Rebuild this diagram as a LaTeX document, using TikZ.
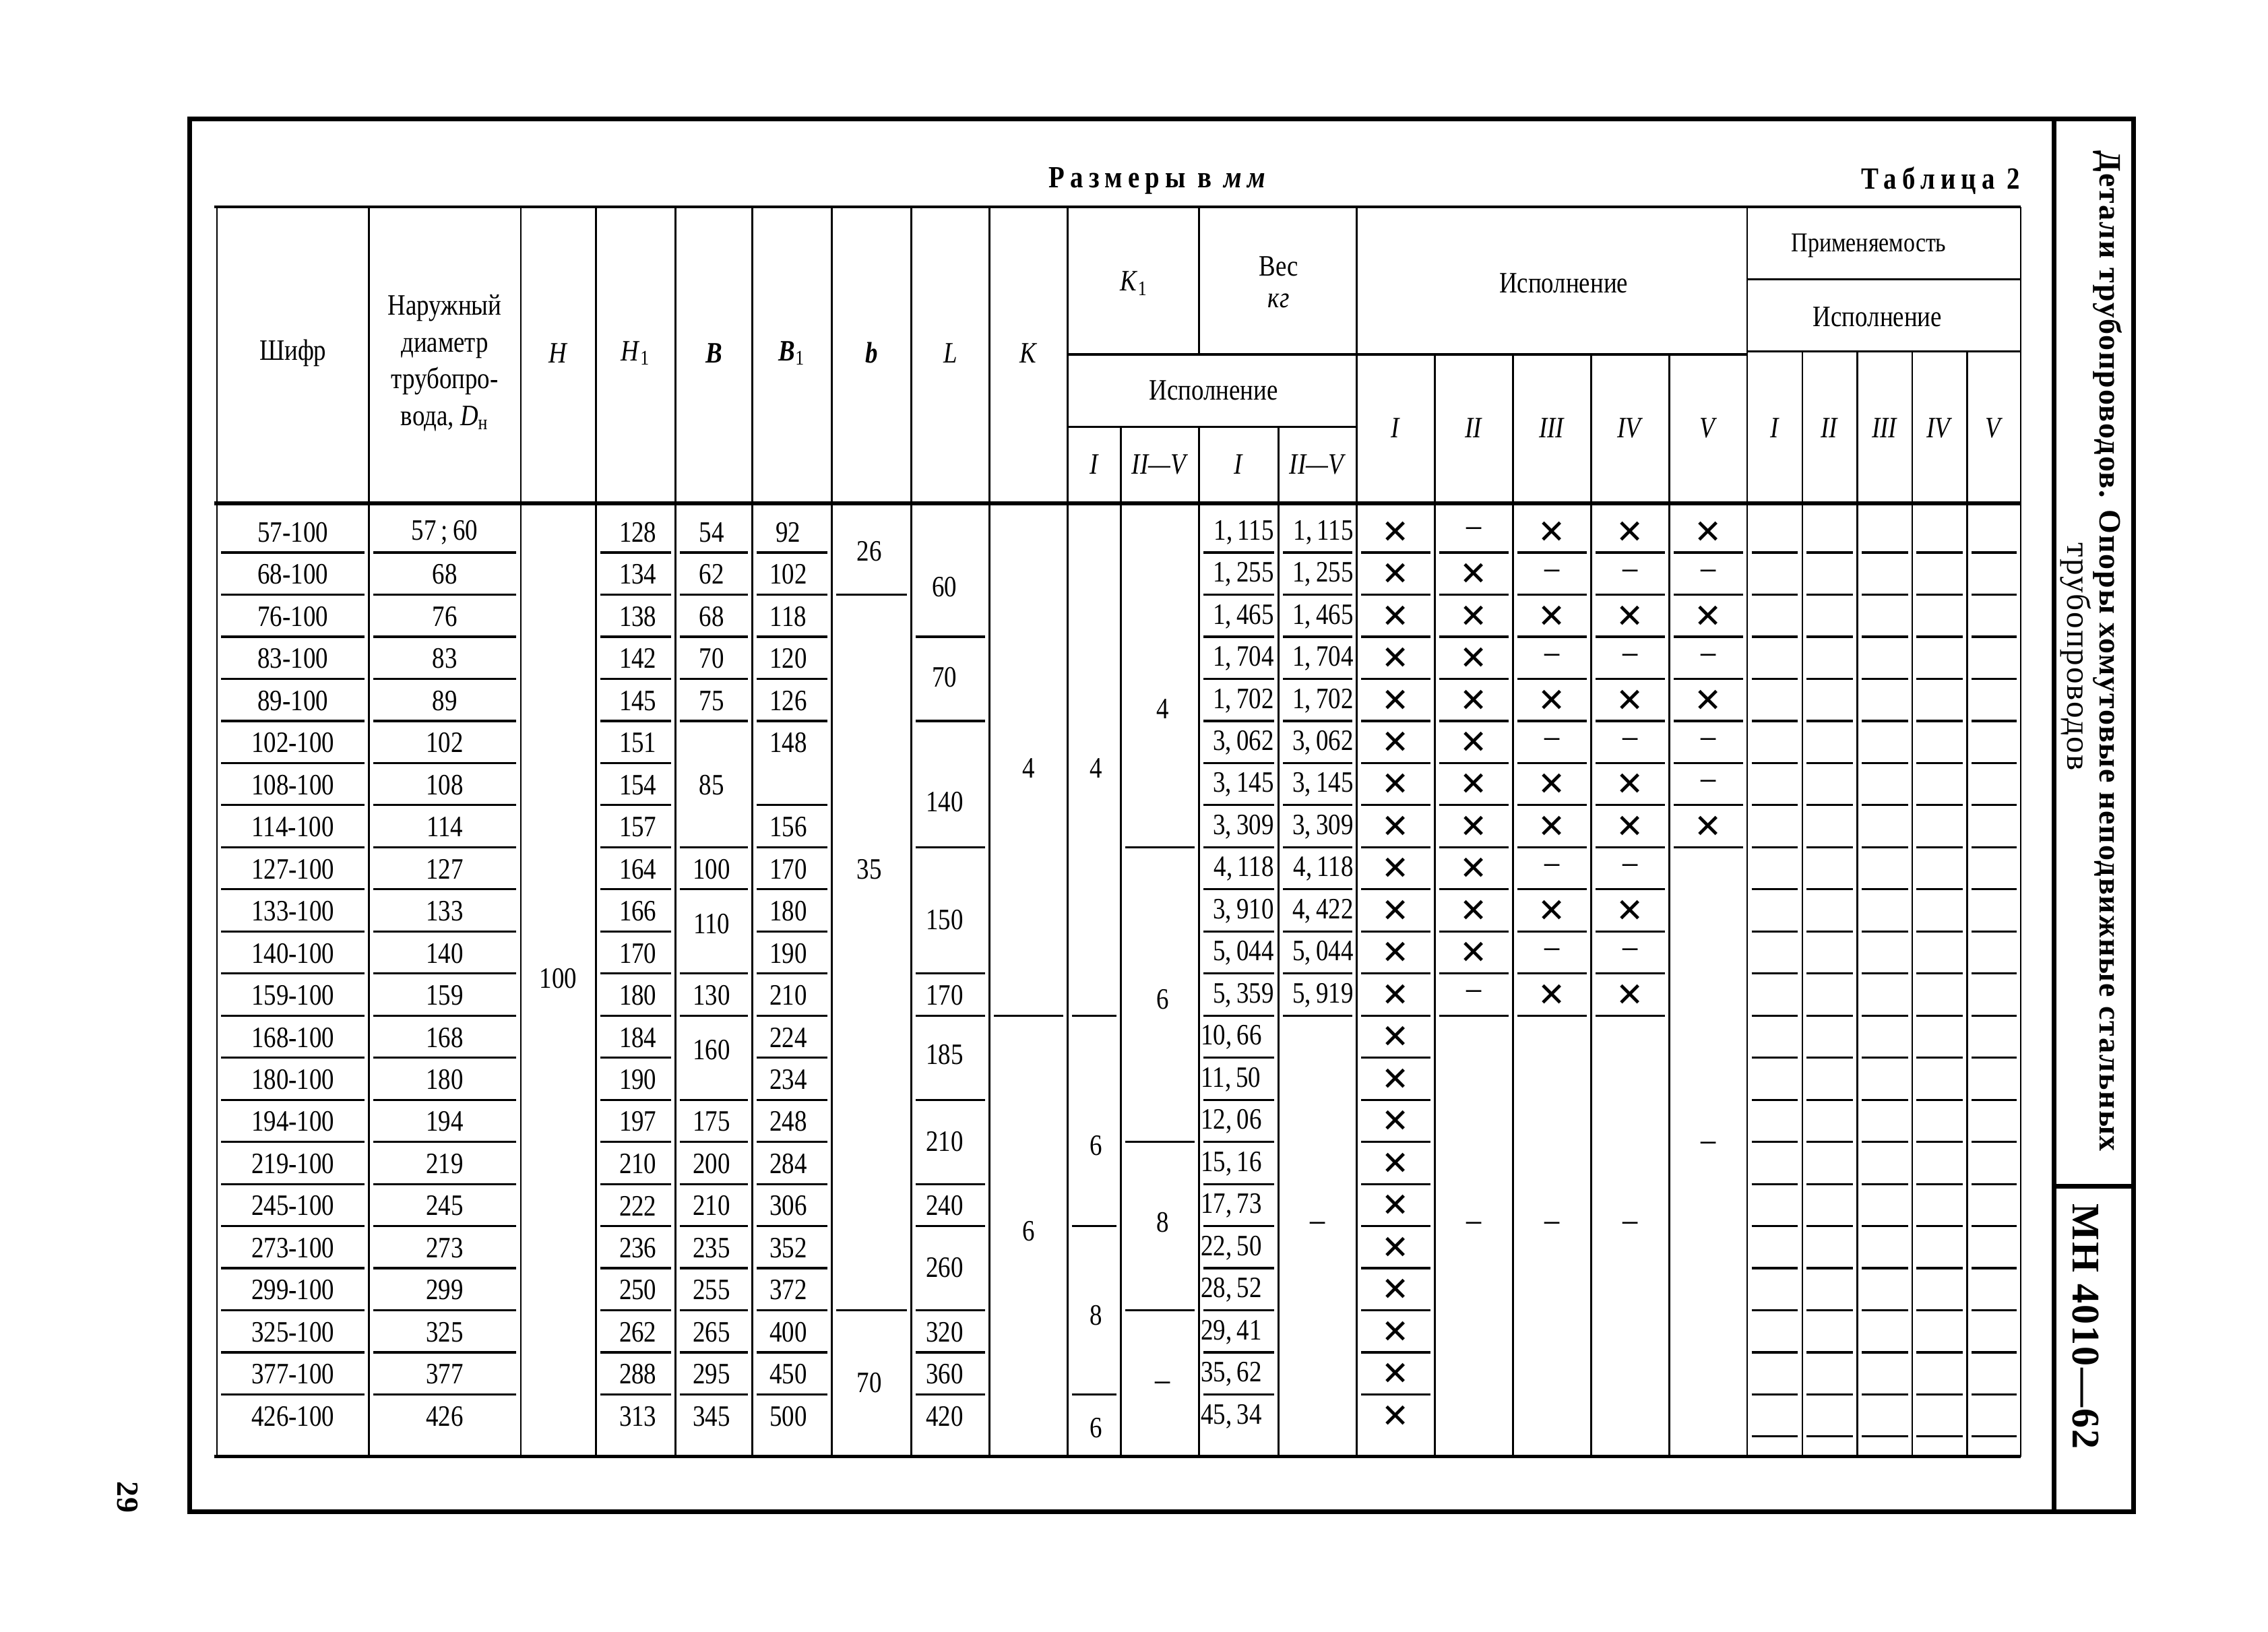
\documentclass[tikz,border=0pt]{standalone}
\usepackage{fontspec}
\setmainfont[FakeStretch=0.84]{Liberation Serif}
\newfontfamily\spacedfont[LetterSpace=18,FakeStretch=0.85]{Liberation Serif}
\newfontfamily\titlefont[LetterSpace=4]{Liberation Serif}
\newfontfamily\symfont{DejaVu Sans}
\usetikzlibrary{positioning}
\newcommand{\rowy}[1]{368+29.1*(#1)}
\newcommand{\cellrules}[3]
{
	\foreach \r in {#3} \draw[cellrule] ({#1+3}, {382+29.1*\r}) -- ({#2-3}, {382+29.1*\r});
}
\newcommand{\crs}{{\symfont\fontsize{14}{14}\selectfont ✕}}
\newcommand{\dsh}{{\fontsize{15}{15}\selectfont –}}

\begin{document}
\begin{tikzpicture}[x=0.021467cm, y=-0.021467cm,
every node/.append style={inner sep=0pt},
cell/.style={font=\fontsize{12.5}{15.5}\selectfont},
thinline/.style={line width=0.7pt},
cellrule/.style={line width=0.9pt},
tableline/.style={line width=1.3pt},
frameline/.style={line width=2pt}]
\useasboundingbox (0,0) rectangle (1568,1128);

% frame and side panel
\draw[frameline] (131,82) -- (1475,82) -- (1475,1045) -- (131,1045) -- cycle;
\draw[frameline] (1420,84) -- (1420,1045);
\draw[frameline] (1420,820) -- (1475,820);

\node[rotate=-90, font=\titlefont\fontsize{13.1}{16}\selectfont\bfseries] at (1457,450) (title1){Детали трубопроводов. Опоры хомутовые неподвижные стальных};
\node[rotate=-90, font=\titlefont\fontsize{14}{17}\selectfont] at (1435,454) (title2){трубопроводов};
\node[rotate=-90, font=\titlefont\fontsize{16.5}{20}\selectfont\bfseries] at (1442,917) (code){МН 4010—62};
\node[rotate=-90, font=\titlefont\fontsize{13}{15}\selectfont\bfseries] at (88,1035) (page){29};

\node[font=\spacedfont\fontsize{13}{15}\selectfont\bfseries] at (802,125) (units){Размеры в \textit{мм}};
\node[anchor=east, font=\spacedfont\fontsize{13}{15}\selectfont\bfseries] at (1397,125) (tabno){Таблица 2};

% table rules
\draw[tableline] (148,143) -- (1397,143);
\draw[tableline, line width=1.7pt] (148,348) -- (1397,348);
\draw[tableline] (148,1007) -- (1397,1007);
\foreach \xa in {150,255,360,412,467,520,575,630,684,738,938,1208,1397}
	\draw[thinline] (\xa,143) -- (\xa,1007);
\draw[thinline] (829,143) -- (829,245);
\foreach \xa in {775,829,884} \draw[thinline] (\xa,295) -- (\xa,1007);
\foreach \xa in {992,1046,1100,1154} \draw[thinline] (\xa,245) -- (\xa,1007);
\foreach \xa in {1246,1284,1322,1360} \draw[thinline] (\xa,243) -- (\xa,1007);
\draw[cellrule] (738,245) -- (938,245);
\draw[cellrule] (738,295) -- (938,295);
\draw[cellrule] (938,245) -- (1208,245);
\draw[cellrule] (1208,193) -- (1397,193);
\draw[cellrule] (1208,243) -- (1397,243);

% header
\node[cell] at (202.5,244) (hShifr){Шифр};
\node[cell, align=center] at (307.5,251) (hDn){Наружный\\диаметр\\трубопро-\\вода, \textit{D}\textsubscript{н}};
\node[cell] at (386,244) (hH){\textit{H}};
\node[cell] at (439.5,244) (hHa){\textit{H}\textsubscript{1}};
\node[cell] at (493.5,244) (hB){\textbf{\textit{B}}};
\node[cell] at (547.5,244) (hBa){\textbf{\textit{B}}\textsubscript{1}};
\node[cell] at (602.5,244) (hb){\textbf{\textit{b}}};
\node[cell] at (657,244) (hL){\textit{L}};
\node[cell] at (711,244) (hK){\textit{K}};
\node[cell] at (784,196) (hKa){\textit{K}\textsubscript{1}};
\node[cell] at (884,184) (hVes){Вес};
\node[cell] at (884,208) (hKg){\textit{кг}};
\node[cell] at (839,270) (hIspA){Исполнение};
\node[cell] at (756.5,321) (hKaI){\textit{I}};
\node[cell] at (802,321) (hKaII){\textit{II—V}};
\node[cell] at (856.5,321) (hVesI){\textit{I}};
\node[cell] at (911,321) (hVesII){\textit{II—V}};
\node[cell] at (1081,196) (hIspB){Исполнение};
\foreach \xc/\t [count=\i] in {965/I, 1019/II, 1073/III, 1127/IV, 1181/V}
	\node[cell] at (\xc,296) (hIsp\i){\textit{\t}};
\node[cell, font=\fontsize{11.5}{14}\selectfont] at (1292,170) (hPrim){Применяемость};
\node[cell] at (1298,219) (hIspC){Исполнение};
\foreach \xc/\t [count=\i] in {1227/I, 1265/II, 1303/III, 1341/IV, 1378.5/V}
	\node[cell] at (\xc,296) (hPrim\i){\textit{\t}};

% body
\foreach \d [count=\r from 0] in {57,68,76,83,89,102,108,114,127,133,140,159,168,180,194,219,245,273,299,325,377,426}
	\node[cell] at (202.5,{\rowy{\r}}) (shifr\r){\d-100};
\foreach \d [count=\r from 0] in {57\,;\,60,68,76,83,89,102,108,114,127,133,140,159,168,180,194,219,245,273,299,325,377,426}
	\node[cell] at (307.5,{\rowy{\r}}) (dn\r){\d};
\node[cell] at (386,{\rowy{10.6}}) (hval){100};
\foreach \v [count=\r from 0] in {128,134,138,142,145,151,154,157,164,166,170,180,184,190,197,210,222,236,250,262,288,313}
	\node[cell] at (441,{\rowy{\r}}) (ha\r){\v};
\foreach \p/\v [count=\i] in {0/54,1/62,2/68,3/70,4/75,6/85,8/100,9.3/110,11/130,12.3/160,14/175,15/200,16/210,17/235,18/255,19/265,20/295,21/345}
	\node[cell] at (492,{\rowy{\p}}) (b\i){\v};
\foreach \p/\v [count=\i] in {0/92,1/102,2/118,3/120,4/126,5/148,7/156,8/170,9/180,10/190,11/210,12/224,13/234,14/248,15/284,16/306,17/352,18/372,19/400,20/450,21/500}
	\node[cell] at (545,{\rowy{\p}}) (ba\i){\v};
\foreach \p/\v [count=\i] in {0.45/26, 8/35, 20.2/70}
	\node[cell] at (601,{\rowy{\p}}) (bb\i){\v};
\foreach \p/\v [count=\i] in {1.3/60, 3.45/70, 6.4/140, 9.2/150, 11/170, 12.4/185, 14.47/210, 16/240, 17.46/260, 19/320, 20/360, 21/420}
	\node[cell] at (653,{\rowy{\p}}) (l\i){\v};
\foreach \p/\v [count=\i] in {5.6/4, 16.6/6}
	\node[cell] at (711,{\rowy{\p}}) (k\i){\v};
\foreach \p/\v [count=\i] in {5.6/4, 14.57/6, 18.6/8, 21.27/6}
	\node[cell] at (758,{\rowy{\p}}) (ka\i){\v};
\foreach \p/\v [count=\i] in {4.2/4, 11.1/6, 16.4/8, 20.3/\dsh}
	\node[cell] at (804,{\rowy{\p}}) (kb\i){\v};

\foreach \a/\b [count=\r from 0] in {1/115,1/255,1/465,1/704,1/702,3/062,3/145,3/309,4/118,3/910,5/044,5/359}
	\node[cell, anchor=east] at (881,{\rowy{\r}}) (wa\r){\a,\,\b};
\foreach \a/\b [count=\r from 12] in {10/66,11/50,12/06,15/16,17/73,22/50,28/52,29/41,35/62,45/34}
	\node[cell, anchor=west] at (830,{\rowy{\r}}) (wa\r){\a,\,\b};
\foreach \a/\b [count=\r from 0] in {1/115,1/255,1/465,1/704,1/702,3/062,3/145,3/309,4/118,4/422,5/044,5/919}
	\node[cell, anchor=east] at (936,{\rowy{\r}}) (wb\r){\a,\,\b};
\node[cell] at (911,{\rowy{16.5}}) (wbD){\dsh};

\foreach \r in {0,...,21}
	\node[cell] at (965,{\rowy{\r}}) (ia\r){\crs};
\foreach \v [count=\r from 0] in {\dsh,\crs,\crs,\crs,\crs,\crs,\crs,\crs,\crs,\crs,\crs,\dsh}
	\node[cell] at (1019,{\rowy{\r}}) (ib\r){\v};
\foreach \v [count=\r from 0] in {\crs,\dsh,\crs,\dsh,\crs,\dsh,\crs,\crs,\dsh,\crs,\dsh,\crs}
{
	\node[cell] at (1073,{\rowy{\r}}) (ic\r){\v};
	\node[cell] at (1127,{\rowy{\r}}) (id\r){\v};
}
\foreach \v [count=\r from 0] in {\crs,\dsh,\crs,\dsh,\crs,\dsh,\dsh,\crs}
	\node[cell] at (1181,{\rowy{\r}}) (ie\r){\v};
\node[cell] at (1019,{\rowy{16.5}}) (ibD){\dsh};
\node[cell] at (1073,{\rowy{16.5}}) (icD){\dsh};
\node[cell] at (1127,{\rowy{16.5}}) (idD){\dsh};
\node[cell] at (1181,{\rowy{14.6}}) (ieD){\dsh};

% cell underlines
\cellrules{150}{255}{0,...,20}
\cellrules{255}{360}{0,...,20}
\cellrules{412}{467}{0,...,20}
\cellrules{467}{520}{0,1,2,3,4,7,8,10,11,13,14,15,16,17,18,19,20}
\cellrules{520}{575}{0,1,2,3,4,6,7,8,...,20}
\cellrules{575}{630}{1,18}
\cellrules{630}{684}{2,4,7,10,11,13,15,16,18,19,20}
\cellrules{684}{738}{11}
\cellrules{738}{775}{11,16,20}
\cellrules{775}{829}{7,14,18}
\cellrules{829}{884}{0,...,20}
\cellrules{884}{938}{0,...,11}
\cellrules{938}{992}{0,...,20}
\cellrules{992}{1046}{0,...,11}
\cellrules{1046}{1100}{0,...,11}
\cellrules{1100}{1154}{0,...,11}
\cellrules{1154}{1208}{0,...,7}
\foreach \xa/\xb in {1208/1246,1246/1284,1284/1322,1322/1360,1360/1397}
{
	\cellrules{\xa}{\xb}{0,...,21}
}
\end{tikzpicture}
\end{document}
